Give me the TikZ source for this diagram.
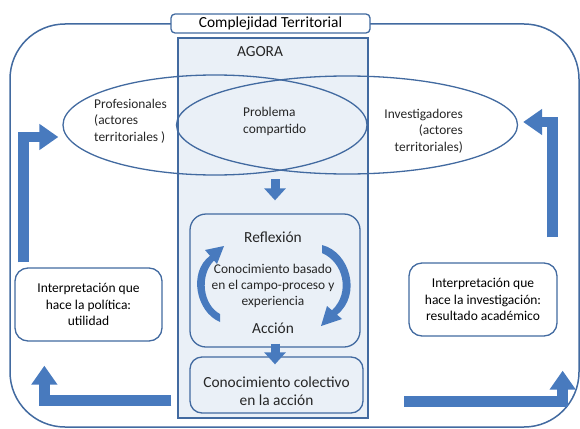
\documentclass[tikz,border=0pt]{standalone}
\usepackage{fontspec}
\setmainfont{Carlito}
\usepackage{tikz}
\usetikzlibrary{arrows.meta}
\usetikzlibrary{shapes.geometric}
\usetikzlibrary{positioning}
\definecolor{lineblue}{RGB}{66,106,160}
\definecolor{arrowblue}{RGB}{72,122,190}
\definecolor{panelfill}{RGB}{234,240,247}
\tikzset{blue line/.style = {draw=lineblue, line width=1.3pt},
         round box/.style = {blue line, rounded corners=13pt, fill=white, inner sep=0pt, align=center,
                              font=\fontsize{13.5}{16.5}\selectfont},
         block arrow/.style = {draw=arrowblue, line width=10.5pt, line join=miter,
                               -{Triangle[length=19pt, width=25pt]}},
         small arrow/.style = {draw=arrowblue, line width=9pt,
                               -{Triangle[length=12pt, width=21pt]}},
         txt/.style = {inner sep=0pt, text=black!85, font=\fontsize{13.4}{16.4}\selectfont},
         big txt/.style = {inner sep=0pt, text=black!85, font=\fontsize{15.4}{18.2}\selectfont}}

\begin{document}
\begin{tikzpicture}[x=1pt, y=-1pt]
     \useasboundingbox (0, 0) rectangle (580, 428);
     \draw [blue line, line width=1.5pt, rounded corners=55pt] (10, 24) rectangle (579, 427);
     \node [blue line, fill=panelfill, minimum width=190pt, minimum height=380pt] (agora) at (273, 228) {};
     \node [big txt] (agoralbl) at (260, 52) {AGORA};
     \node [round box, rounded corners=4pt, minimum width=199pt, minimum height=19pt,
            font=\fontsize{15.4}{18}\selectfont] (title) at (270.5, 23.5) {Complejidad Territorial};
     \node [blue line, ellipse, inner sep=0pt, minimum width=304pt, minimum height=100pt] (profes) at (215, 125) {};
     \node [blue line, ellipse, inner sep=0pt, minimum width=341pt, minimum height=98pt] (invest) at (347, 125) {};
     \node [txt, align=left, anchor=west] (profestxt) at (94, 121) {Profesionales\\(actores\\territoriales )};
     \node [txt, align=left, anchor=west] (problema) at (243, 121.5) {Problema\\compartido};
     \node [txt, align=right, anchor=east] (investtxt) at (463, 131) {Investigadores\\(actores\\territoriales)};
     \node [round box, fill=panelfill, rounded corners=16pt, minimum width=170pt, minimum height=133pt] (reflex) at (275, 280.5) {};
     \node [big txt] (reflexion) at (273, 237) {Reflexión};
     \node [txt, align=center] (conoc) at (273, 286) {Conocimiento basado\\en el campo-proceso y\\experiencia};
     \node [big txt] (accion) at (273, 328) {Acción};
     \fill [arrowblue] (220, 322) .. controls (196, 312) and (188, 272) .. (210, 255.8)
          -- (205, 250) -- (224, 246) -- (217, 264) -- (214, 260.5)
          .. controls (199, 276) and (203, 305) .. (220, 314) -- cycle;
     \fill [arrowblue] (322, 245) .. controls (350, 252) and (362, 295) .. (337, 314.7)
          -- (342, 319) -- (321, 326) -- (327, 306) -- (332, 310.3)
          .. controls (351, 292) and (343, 262) .. (322, 253) -- cycle;
     \node [round box, fill=panelfill, rounded corners=12pt, minimum width=173pt, minimum height=56pt] (colect) at (276.5, 385) {};
     \node [big txt, align=center] (colecttxt) at (276.5, 391) {Conocimiento colectivo\\en la acción};
     \node [round box, minimum width=147pt, minimum height=73pt] (interpol) at (88.5, 304.5) {Interpretación que\\hace la política:\\utilidad};
     \node [round box, minimum width=148pt, minimum height=73pt] (interinv) at (483, 299.5) {Interpretación que\\hace la investigación:\\resultado académico};
     \draw [small arrow] ([yshift=34pt]reflex.north) -- ([yshift=13pt]reflex.north);
     \draw [small arrow] ([yshift=4pt]reflex.south) -- ([yshift=-8pt]reflex.south |- colect.north);
     \draw [block arrow] ([shift={(9pt, 5pt)}]interpol.north west) |- ([shift={(-4pt, -12pt)}]profes.west);
     \draw [block arrow] ([shift={(-5pt, 25pt)}]interinv.north east) |- ([shift={(5pt, 3pt)}]invest.east);
     \draw [block arrow] ([shift={(-6pt, 18pt)}]agora.south west) -| ([shift={(30pt, -24pt)}]interpol.south west);
     \draw [block arrow] ([shift={(-4pt, -65pt)}]interinv.south west) -| ([shift={(5pt, -34pt)}]interinv.south east);
    \end{tikzpicture}
\end{document}
